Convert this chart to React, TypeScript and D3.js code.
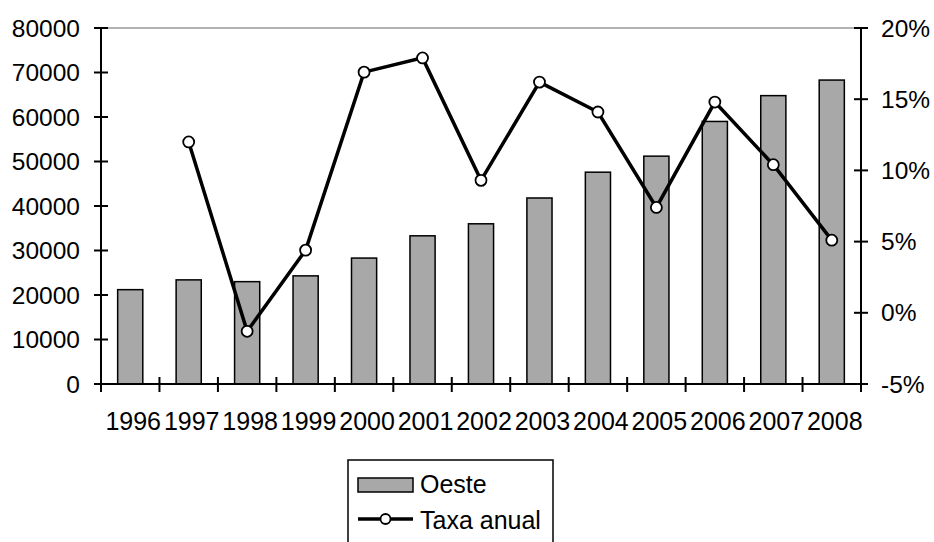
import React from "react";
import * as d3 from "d3";

const years = ["1996","1997","1998","1999","2000","2001","2002","2003","2004","2005","2006","2007","2008"];
const oeste = [21200, 23400, 23000, 24300, 28300, 33300, 36000, 41800, 47600, 51200, 59000, 64800, 68300];
const taxaYears = ["1997","1998","1999","2000","2001","2002","2003","2004","2005","2006","2007","2008"];
const taxa = [12.0, -1.3, 4.4, 16.9, 17.9, 9.3, 16.2, 14.1, 7.4, 14.8, 10.4, 5.1];
const leftTicks = [0, 10000, 20000, 30000, 40000, 50000, 60000, 70000, 80000];
const rightTicks = [-5, 0, 5, 10, 15, 20];

const W = 934, H = 542;
const L = 101, R = 861, T = 28, B = 384;
const FONT = "Liberation Sans, Arial, sans-serif";

export default function App() {
  const x = d3.scaleBand<string>().domain(years).range([L, R]).paddingInner(0.57).paddingOuter(0.285);
  const xc = d3.scaleBand<string>().domain(years).range([L, R]);
  const yl = d3.scaleLinear().domain([0, 80000]).range([B, T]);
  const yr = d3.scaleLinear().domain([-5, 20]).range([B, T]);
  const pts = taxaYears.map((yv, i) => [xc(yv)! + xc.bandwidth() / 2, yr(taxa[i])] as [number, number]);
  const line = d3.line<[number, number]>()(pts) || "";
  const bounds = [...years.map(yv => xc(yv)!), R];

  return (
    <svg width={W} height={H} style={{ position: "absolute", left: 0, top: 0, background: "#fff" }} fontFamily={FONT}>
      <rect x={0} y={0} width={W} height={H} fill="#fff" />
      <line x1={L} x2={R} y1={T} y2={T} stroke="#999" strokeWidth={1.5} />
      {years.map((yv, i) => (
        <rect key={yv} x={x(yv)!} y={yl(oeste[i])} width={x.bandwidth()} height={B - yl(oeste[i])}
          fill="#a8a8a8" stroke="#000" strokeWidth={1.5} />
      ))}
      {/* left axis */}
      <line x1={L} x2={L} y1={T} y2={B} stroke="#000" strokeWidth={2} />
      {leftTicks.map(t => (
        <g key={t}>
          <line x1={L - 7} x2={L + 7} y1={yl(t)} y2={yl(t)} stroke="#000" strokeWidth={2} />
          <text x={80} y={yl(t)} dy="0.35em" textAnchor="end" fontSize={24.5} fill="#000">{t}</text>
        </g>
      ))}
      {/* right axis */}
      <line x1={R} x2={R} y1={T} y2={B} stroke="#000" strokeWidth={2} />
      {rightTicks.map(t => (
        <g key={t}>
          <line x1={R - 7} x2={R + 7} y1={yr(t)} y2={yr(t)} stroke="#000" strokeWidth={2} />
          <text x={881} y={yr(t)} dy="0.35em" textAnchor="start" fontSize={24.5} fill="#000">{t + "%"}</text>
        </g>
      ))}
      {/* bottom axis */}
      <line x1={L} x2={R} y1={B} y2={B} stroke="#000" strokeWidth={2} />
      {bounds.map((b, i) => (
        <line key={i} x1={b} x2={b} y1={B - 7} y2={B + 8} stroke="#000" strokeWidth={2} />
      ))}
      {years.map(yv => (
        <text key={yv} x={xc(yv)! + xc.bandwidth() / 2 + 3} y={430} textAnchor="middle" fontSize={25} fill="#000">{yv}</text>
      ))}
      {/* line series */}
      <path d={line} fill="none" stroke="#000" strokeWidth={3.5} />
      {pts.map((p, i) => (
        <circle key={i} cx={p[0]} cy={p[1]} r={5.5} fill="#fff" stroke="#000" strokeWidth={1.8} />
      ))}
      {/* legend */}
      <rect x={348} y={460} width={205} height={90} fill="#fff" stroke="#000" strokeWidth={1.5} />
      <rect x={358} y={478} width={55} height={14} fill="#a8a8a8" stroke="#000" strokeWidth={1.5} />
      <text x={420} y={493} fontSize={25} fill="#000">Oeste</text>
      <line x1={358} x2={413} y1={519} y2={519} stroke="#000" strokeWidth={3.5} />
      <circle cx={385.5} cy={519} r={5} fill="#fff" stroke="#000" strokeWidth={1.8} />
      <text x={420} y={529} fontSize={25} fill="#000">Taxa anual</text>
    </svg>
  );
}
